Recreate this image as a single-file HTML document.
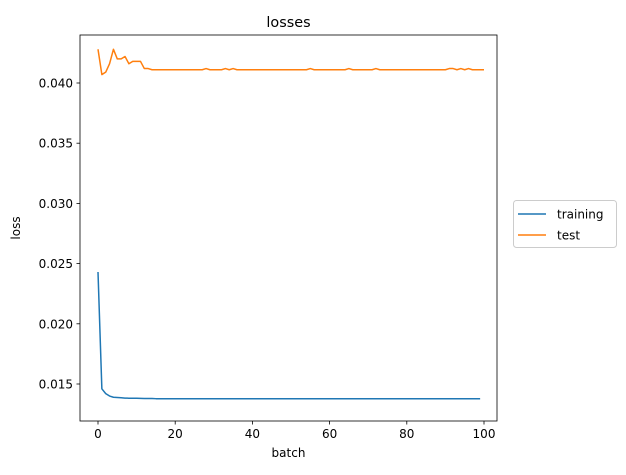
<!DOCTYPE html>
<html><head><meta charset="utf-8"><style>
body{margin:0;background:#fff;font-family:"Liberation Sans","DejaVu Sans",sans-serif;}
svg text{font-family:"DejaVu Sans","Liberation Sans",sans-serif;}
</style></head><body>
<svg id="c" width="626" height="470" xmlns="http://www.w3.org/2000/svg"></svg>
<script>
const training=[0.0243,0.0146,0.0142,0.0140,0.0139,0.01388,0.01386,0.01383,0.01382,0.01382,0.01382,0.01381,0.0138,0.0138,0.0138,0.01378,0.01378,0.01378,0.01378,0.01378,0.01378,0.01378,0.01378,0.01378,0.01378,0.01378,0.01378,0.01378,0.01378,0.01378,0.01378,0.01378,0.01378,0.01378,0.01378,0.01378,0.01378,0.01378,0.01378,0.01378,0.01378,0.01378,0.01378,0.01378,0.01378,0.01378,0.01378,0.01378,0.01378,0.01378,0.01378,0.01378,0.01378,0.01378,0.01378,0.01378,0.01378,0.01378,0.01378,0.01378,0.01378,0.01378,0.01378,0.01378,0.01378,0.01378,0.01378,0.01378,0.01378,0.01378,0.01378,0.01378,0.01378,0.01378,0.01378,0.01378,0.01378,0.01378,0.01378,0.01378,0.01378,0.01378,0.01378,0.01378,0.01378,0.01378,0.01378,0.01378,0.01378,0.01378,0.01378,0.01378,0.01378,0.01378,0.01378,0.01378,0.01378,0.01378,0.01378,0.01378];
const test=[0.0428,0.0407,0.0409,0.0416,0.0428,0.0420,0.0420,0.0422,0.0416,0.0418,0.0418,0.0418,0.0412,0.0412,0.0411,0.0411,0.0411,0.0411,0.0411,0.0411,0.0411,0.0411,0.0411,0.0411,0.0411,0.0411,0.0411,0.0411,0.0412,0.0411,0.0411,0.0411,0.0411,0.0412,0.0411,0.0412,0.0411,0.0411,0.0411,0.0411,0.0411,0.0411,0.0411,0.0411,0.0411,0.0411,0.0411,0.0411,0.0411,0.0411,0.0411,0.0411,0.0411,0.0411,0.0411,0.0412,0.0411,0.0411,0.0411,0.0411,0.0411,0.0411,0.0411,0.0411,0.0411,0.0412,0.0411,0.0411,0.0411,0.0411,0.0411,0.0411,0.0412,0.0411,0.0411,0.0411,0.0411,0.0411,0.0411,0.0411,0.0411,0.0411,0.0411,0.0411,0.0411,0.0411,0.0411,0.0411,0.0411,0.0411,0.0411,0.0412,0.0412,0.0411,0.0412,0.0411,0.0412,0.0411,0.0411,0.0411,0.0411];
const xTicks=[0,20,40,60,80,100];
const yTicks=[0.015,0.020,0.025,0.030,0.035,0.040];
const seriesNames=["training","test"];
const colors=["#1f77b4","#ff7f0e"];
const svg=document.getElementById('c');
const NS="http://www.w3.org/2000/svg";
const L=80,R=497,T=35,B=421;
const xs=v=>98+(v-0)*(484-98)/100;
const ys=v=>384-(v-0.015)*(384-83)/0.025;
function mk(t,a,txt){const e=document.createElementNS(NS,t);for(const k in a)e.setAttribute(k,a[k]);if(txt!==undefined)e.textContent=txt;svg.appendChild(e);return e;}
let fr=mk('rect',{x:L,y:T,width:R-L,height:B-T,fill:'none',stroke:'#000','stroke-width':0.8});


xTicks.forEach(v=>{const x=xs(v);
let l=mk('line',{x1:x,x2:x,y1:B,y2:B+3.5,stroke:'#000','stroke-width':0.8});


let t=mk('text',{x:x,y:B+17,'font-size':12,'text-anchor':'middle'},String(v));

});
yTicks.forEach(v=>{const y=ys(v);
let l=mk('line',{x1:L-3.5,x2:L,y1:y,y2:y,stroke:'#000','stroke-width':0.8});


let t=mk('text',{x:L-7,y:y+4.5,'font-size':12,'text-anchor':'end'},v.toFixed(3));

});
[training,test].forEach((d,i)=>{
let p=mk('polyline',{points:d.map((v,j)=>xs(j)+','+ys(v)).join(' '),fill:'none',stroke:colors[i],'stroke-width':1.5,'stroke-linejoin':'round'});

});
let ti=mk('text',{x:(L+R)/2,y:T-8,'font-size':14.4,'text-anchor':'middle'},'losses');


let xl=mk('text',{x:(L+R)/2,y:457,'font-size':12,'text-anchor':'middle'},'batch');


let yl=mk('text',{x:20,y:(T+B)/2,'font-size':12,'text-anchor':'middle',transform:'rotate(-90 20 '+(T+B)/2+')'},'loss');


let lg=mk('rect',{x:513.5,y:200.5,width:103,height:47,rx:3,fill:'#fff',stroke:'#ccc','stroke-width':1});


seriesNames.forEach((n,i)=>{const y=214+i*21;
let l=mk('line',{x1:518,x2:546,y1:y,y2:y,stroke:colors[i],'stroke-width':1.5});


let t=mk('text',{x:557,y:y+4.5,'font-size':12},n);

});
</script>
</body></html>
